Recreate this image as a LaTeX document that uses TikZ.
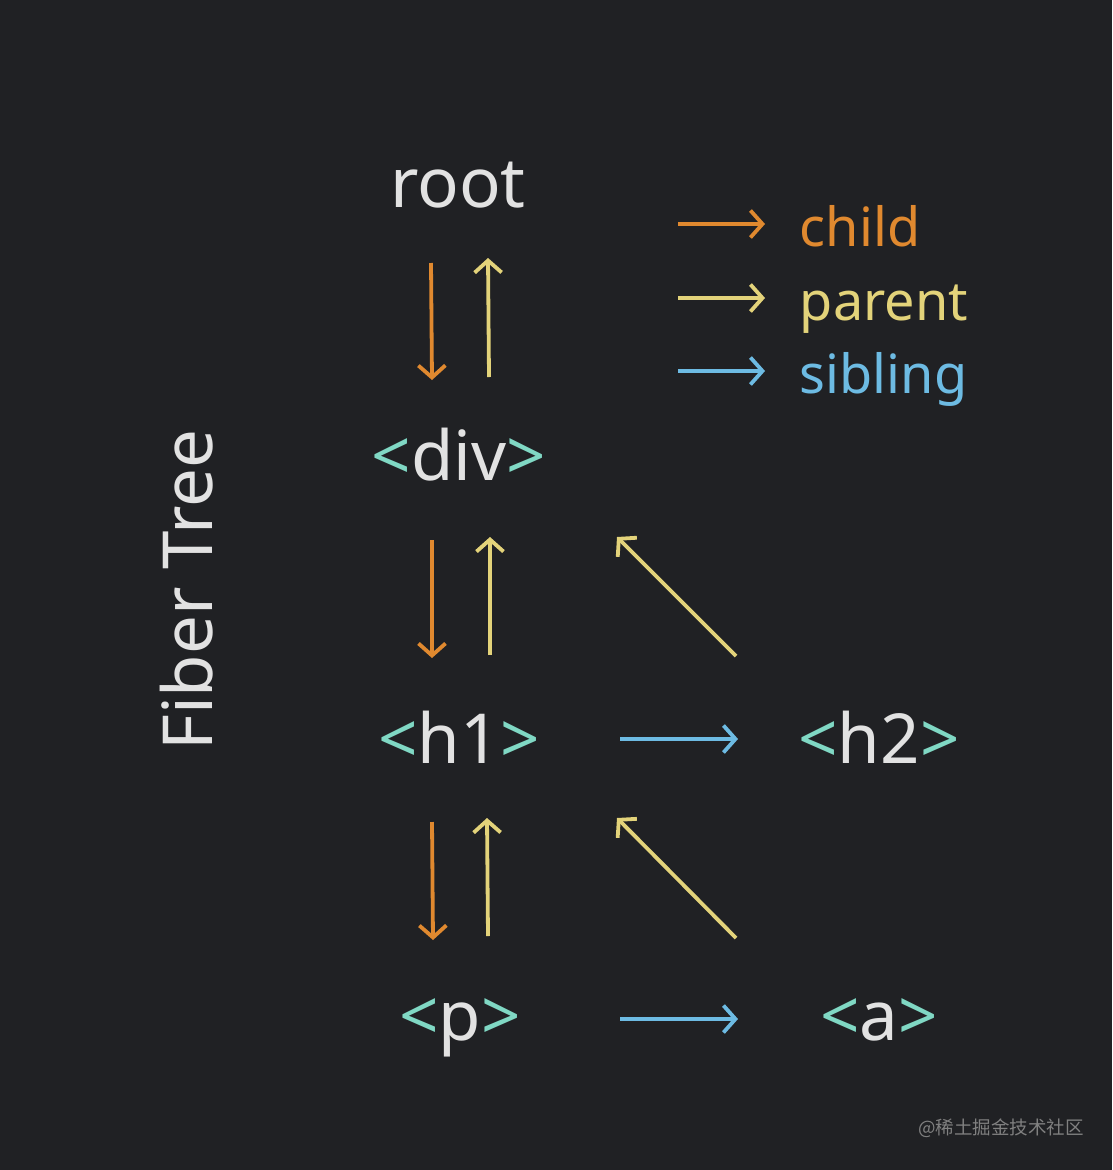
\documentclass[tikz,border=0pt]{standalone}
\usepackage{fontspec}
\setmainfont{Noto Sans}
\newfontfamily\cjkfont{Noto Sans CJK SC}
\usetikzlibrary{arrows.meta}

\definecolor{bgc}{HTML}{202124}
\definecolor{txtc}{HTML}{E2E2E2}
\definecolor{tagc}{HTML}{80D8C4}
\definecolor{kidc}{HTML}{E0892F}
\definecolor{parc}{HTML}{E3D37A}
\definecolor{sibc}{HTML}{6DBBE3}

\newcommand{\tg}[1]{\textcolor{tagc}{<}#1\textcolor{tagc}{>}}

\tikzset{
  tree/.style={anchor=base, inner sep=0pt, text=txtc, font=\fontsize{69}{69}\selectfont},
  legend/.style={anchor=base west, inner sep=0pt, font=\fontsize{54}{54}\selectfont},
  kid/.style={->, draw=kidc},
  par/.style={->, draw=parc},
  sib/.style={->, draw=sibc},
}

\begin{document}
\begin{tikzpicture}[x=1pt, y=-1pt, line width=3.8pt, >={Straight Barb[length=12pt,width=27pt]}]
	\fill[bgc] (0,0) rectangle (1112,1170);
	\useasboundingbox (0,0) rectangle (1112,1170);

	\node[tree, rotate=90] (title) at (212,590) {Fiber Tree};

	\node[tree] (root) at (458,207) {root};
	\node[tree] (div) at (459,480) {\tg{div}};
	\node[tree] (hA) at (459,763) {\tg{h1}};
	\node[tree] (hB) at (879,763) {\tg{h2}};
	\node[tree] (p) at (460,1040) {\tg{p}};
	\node[tree] (a) at (879,1040) {\tg{a}};

	\node[legend, text=kidc] (lkid) at (798,246) {child};
	\node[legend, text=parc] (lpar) at (798,320) {parent};
	\node[legend, text=sibc] (lsib) at (798,393) {sibling};
	\draw[kid] ([shift={(-120,-22)}]lkid.base west) -- ([shift={(-33,-22)}]lkid.base west);
	\draw[par] ([shift={(-120,-22)}]lpar.base west) -- ([shift={(-33,-22)}]lpar.base west);
	\draw[sib] ([shift={(-120,-22)}]lsib.base west) -- ([shift={(-33,-22)}]lsib.base west);

	% child / parent
	\draw[kid] ([shift={(-27,56)}]root.base) -- ([shift={(-27,-100)}]div.base);
	\draw[par] ([shift={(30,-103)}]div.base) -- ([shift={(30,51)}]root.base);
	\draw[kid] ([shift={(-27,60)}]div.base) -- ([shift={(-27,-105)}]hA.base);
	\draw[par] ([shift={(31,-108)}]hA.base) -- ([shift={(31,57)}]div.base);
	\draw[kid] ([shift={(-27,59)}]hA.base) -- ([shift={(-27,-100)}]p.base);
	\draw[par] ([shift={(28,-104)}]p.base) -- ([shift={(28,55)}]hA.base);
	\draw[par] ([shift={(-143,-107)}]hB.base) -- ([shift={(158,57)}]div.base);
	\draw[par] ([shift={(-143,-102)}]a.base) -- ([shift={(158,55)}]hA.base);

	% sibling
	\draw[sib] ([shift={(161,-24)}]hA.base) -- ([shift={(-141,-24)}]hB.base);
	\draw[sib] ([shift={(160,-21)}]p.base) -- ([shift={(-141,-21)}]a.base);

	\node[text=gray, font=\cjkfont\fontsize{18.5}{18.5}\selectfont] (mark) at (1001,1128) {@稀土掘金技术社区};
\end{tikzpicture}
\end{document}
